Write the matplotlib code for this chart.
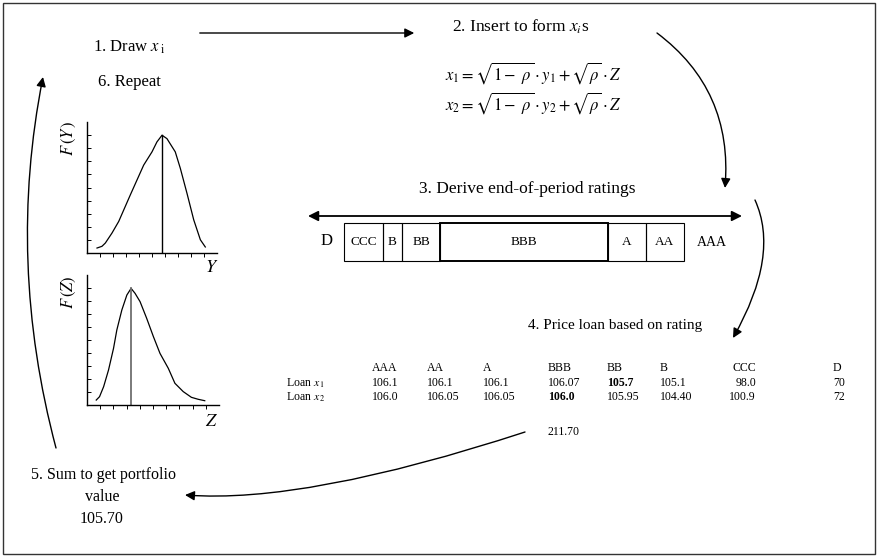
import matplotlib
matplotlib.use("Agg")
import matplotlib.pyplot as plt
from matplotlib.patches import Rectangle, FancyArrowPatch
from matplotlib.path import Path

plt.rcParams['font.family'] = ['Liberation Serif', 'DejaVu Serif']
plt.rcParams['mathtext.fontset'] = 'stix'

# ---------------- data ----------------
ratings = ['AAA', 'AA', 'A', 'BBB', 'BB', 'B', 'CCC', 'D']
loan_x1 = ['106.1', '106.1', '106.1', '106.07', '105.7', '105.1', '98.0', '70']
loan_x2 = ['106.0', '106.05', '106.05', '106.0', '105.95', '104.40', '100.9', '72']
bold_x1 = 'BB'
bold_x2 = 'BBB'
total_value = '211.70'
portfolio_value = '105.70'

bar_ratings = ['CCC', 'B', 'BB', 'BBB', 'A', 'AA']
rating_thresholds = [344, 383, 402, 440, 608, 646, 684]

# F(Y) curve
fy_x = [0.77, 1.15, 1.41, 1.92, 2.44, 3.33, 4.36, 5.0, 5.38, 5.77, 6.15, 6.79, 7.18, 7.69, 8.21, 8.72, 9.10]
fy_y = [0.38, 0.51, 0.76, 1.52, 2.41, 4.43, 6.71, 7.72, 8.48, 8.99, 8.73, 7.72, 6.46, 4.56, 2.53, 1.01, 0.46]
fy_draw = 5.77
# F(Z) curve
fz_x = [0.70, 0.95, 1.26, 1.63, 2.01, 2.26, 2.64, 3.02, 3.34, 3.64, 4.02, 4.52, 5.03, 5.53, 6.16, 6.66, 7.29, 7.91, 8.42, 8.92]
fz_y = [0.38, 0.64, 1.41, 2.69, 4.36, 5.77, 7.31, 8.46, 8.97, 8.59, 7.95, 6.67, 5.26, 3.97, 2.82, 1.67, 1.03, 0.59, 0.44, 0.33]
fz_draw = 3.34

W, H = 879, 557
fig = plt.figure(figsize=(W / 100, H / 100), dpi=100)
ax = fig.add_axes([0, 0, 1, 1])
ax.set_xlim(0, W)
ax.set_ylim(H, 0)
ax.axis('off')

# border
ax.add_patch(Rectangle((3, 3), 872, 551, fill=False, lw=1.0, ec='#333333'))

FS = 12.5
# step texts
ax.text(129, 47, r'1. Draw $x_{\;\mathrm{i}}$', fontsize=12, ha='center', va='center')
ax.text(129, 82, '6. Repeat', fontsize=12, ha='center', va='center')
ax.text(521, 27, r'2. Insert to form $x_i$s', fontsize=FS, ha='center', va='center')
ax.text(445, 73, r'$x_1 = \sqrt{1-\ \rho}\cdot y_1 + \sqrt{\rho}\cdot Z$', fontsize=12, ha='left', va='center')
ax.text(445, 103, r'$x_2 = \sqrt{1-\ \rho}\cdot y_2 + \sqrt{\rho}\cdot Z$', fontsize=12, ha='left', va='center')
ax.text(527, 189, '3. Derive end-of-period ratings', fontsize=FS, ha='center', va='center')
ax.text(615, 325, '4. Price loan based on rating', fontsize=11, ha='center', va='center')
ax.text(104, 475, '5. Sum to get portfolio', fontsize=11.5, ha='center', va='center')
ax.text(102, 497, 'value', fontsize=11.5, ha='center', va='center')
ax.text(102, 519, portfolio_value, fontsize=11.5, ha='center', va='center')

# rating bar
ax.add_patch(FancyArrowPatch((308, 216), (742, 216), arrowstyle='<|-|>', mutation_scale=15,
                             lw=1.3, color='black', shrinkA=0, shrinkB=0))
for i, lab in enumerate(bar_ratings):
    x0, x1 = rating_thresholds[i], rating_thresholds[i + 1]
    lw = 1.4 if lab == 'BBB' else 0.8
    ax.add_patch(Rectangle((x0, 223), x1 - x0, 38, fill=False, lw=lw, ec='black'))
    ax.text((x0 + x1) / 2, 242, lab, fontsize=9.5, ha='center', va='center')
ax.text(327, 241, 'D', fontsize=12, ha='center', va='center')
ax.text(712, 242, 'AAA', fontsize=10, ha='center', va='center')

# table
col_x = [372, 427, 483, 548, 607, 660, 756, 833]
TFS = 8.5
for j, r in enumerate(ratings):
    ha = 'right' if r == 'CCC' else 'left'
    ax.text(col_x[j], 368, r, fontsize=TFS, ha=ha, va='center')
    ax.text(col_x[j], 383, loan_x1[j], fontsize=TFS, ha=ha, va='center',
            fontweight='bold' if r == bold_x1 else 'normal')
    ax.text(col_x[j], 397, loan_x2[j], fontsize=TFS, ha=ha, va='center',
            fontweight='bold' if r == bold_x2 else 'normal')
ax.text(286, 383, r'Loan $x_{\,1}$', fontsize=TFS, ha='left', va='center')
ax.text(286, 397, r'Loan $x_{\,2}$', fontsize=TFS, ha='left', va='center')
ax.text(548, 432, total_value, fontsize=TFS, ha='left', va='center')

# arrows
def curved(p0, c, p2, ms=14):
    path = Path([p0, c, p2], [Path.MOVETO, Path.CURVE3, Path.CURVE3])
    ax.add_patch(FancyArrowPatch(path=path, arrowstyle='-|>', mutation_scale=ms, lw=1.0, color='black'))

ax.add_patch(FancyArrowPatch((197, 33), (417, 33), arrowstyle='-|>', mutation_scale=14, lw=1.0, color='black'))
curved((657, 33), (733, 90), (725, 188))
curved((755, 200), (780, 255), (733, 338))
curved((525, 432), (305, 504), (185, 495))
curved((56, 448), (6.5, 261.5), (43, 77))

# small plots
def small_plot(rect, xs, ys, xv, yv, vcolor, ylab, xlab, ylab_y, xlab_y):
    a = fig.add_axes(rect)
    a.plot(xs, ys, color='black', lw=0.9)
    a.plot([xv, xv], [0, yv], color=vcolor, lw=1.3 if vcolor != 'black' else 1.0)
    a.set_xlim(0, 10)
    a.set_ylim(0, 10)
    for s in ['top', 'right']:
        a.spines[s].set_visible(False)
    for s in ['left', 'bottom']:
        a.spines[s].set_linewidth(1.0)
    a.set_xticks(range(1, 10))
    a.set_yticks(range(1, 10))
    a.tick_params(axis='x', direction='out', length=3, width=0.7, labelbottom=False)
    a.tick_params(axis='y', direction='in', length=3, width=0.7, labelleft=False)
    ax.text(69, ylab_y, ylab, fontsize=12, rotation=90, ha='center', va='center')
    ax.text(212, xlab_y, xlab, fontsize=13, ha='center', va='center')

small_plot([87 / W, (H - 253) / H, 130 / W, 131 / H], fy_x, fy_y, fy_draw, 8.99, 'black',
           r'$F\,(Y\,)$', r'$Y$', 138, 268)
small_plot([87 / W, (H - 405) / H, 132 / W, 130 / H], fz_x, fz_y, fz_draw, 8.97, '#707070',
           r'$F\,(Z)$', r'$Z$', 292, 422)

fig.savefig('out.png', dpi=100)
